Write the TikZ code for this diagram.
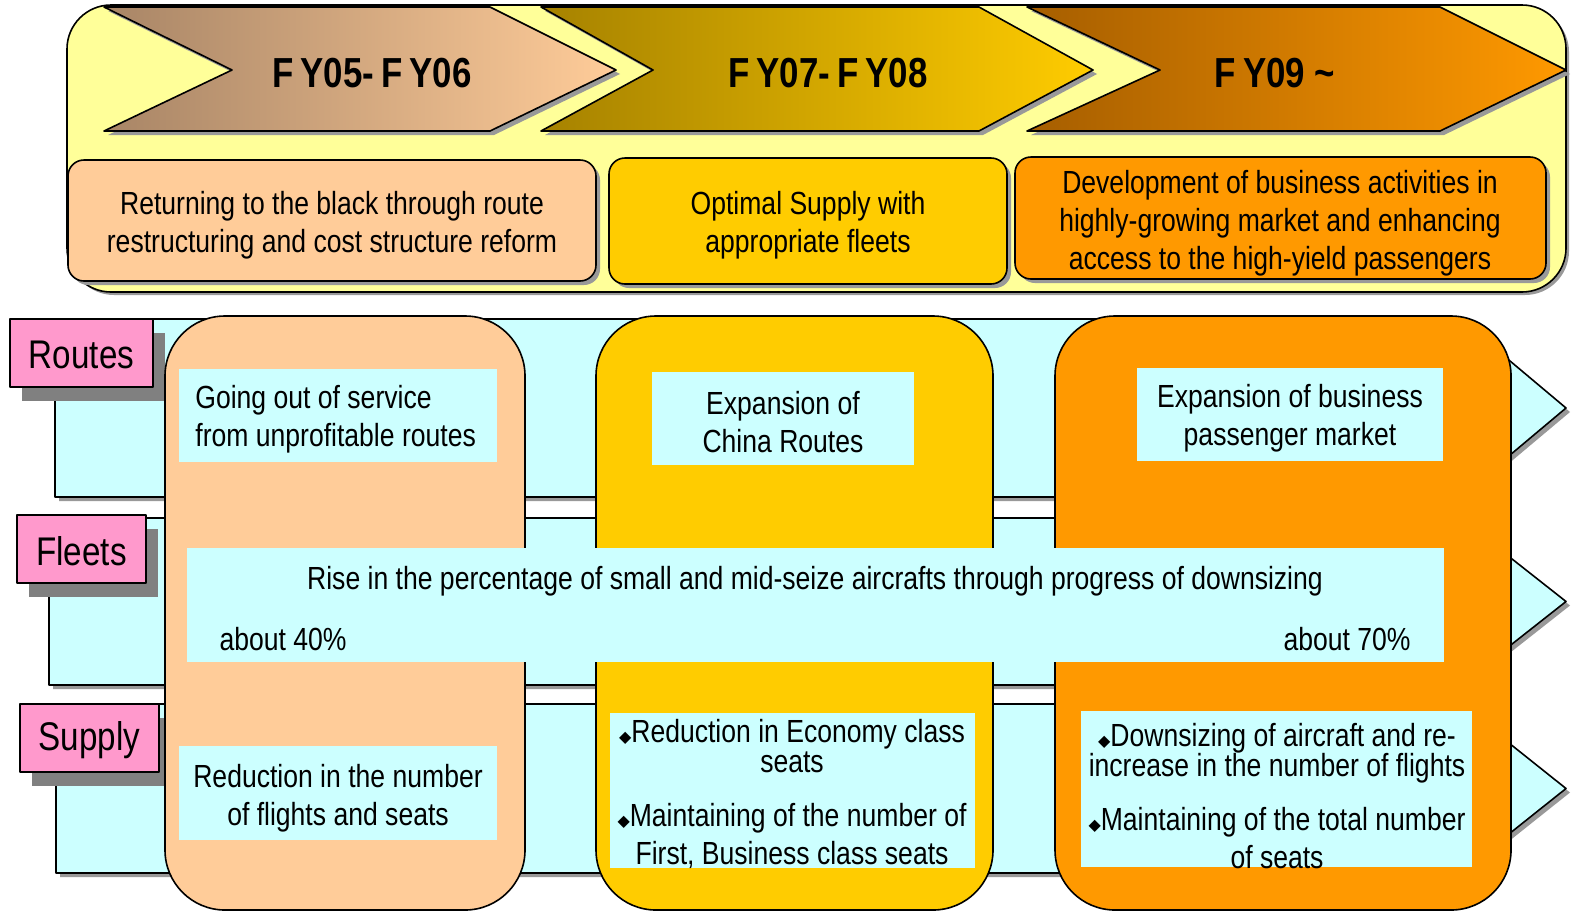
\documentclass[tikz,border=0pt]{standalone}
\usepackage{fontspec}
\setmainfont{Liberation Sans}[FakeStretch=0.83]
\newfontfamily\symfont{DejaVu Sans}
\definecolor{panelyel}{HTML}{FFFF99}
\definecolor{chevA}{HTML}{A88566}
\definecolor{chevB}{HTML}{A68200}
\definecolor{chevC}{HTML}{A65E00}
\definecolor{boxA}{HTML}{FFCC99}
\definecolor{boxB}{HTML}{FFCC00}
\definecolor{boxC}{HTML}{FF9900}
\definecolor{bandcyan}{HTML}{CCFFFF}
\definecolor{tagpink}{HTML}{FF99CC}
\newcommand\bul{{\symfont\fontsize{8}{8}\selectfont ◆}}
\begin{document}
\begin{tikzpicture}[line join=round,x=0.5pt,y=-0.5pt]
	\tikzset{
		shade-gray/.style={fill=black!40},
		tag-text/.style={inner sep=0pt,font=\fontsize{20}{24}\selectfont},
		txt/.style={inner sep=0pt,align=center,font=\fontsize{16}{19}\selectfont},
		fy-text/.style={inner sep=0pt,font=\bfseries\fontsize{21}{24}\selectfont}
	}
	\useasboundingbox (0,0) rectangle (1572,911);
	% top panel
	\fill[shade-gray,rounded corners=22pt] (70,8) rectangle (1569,295);
	\draw[fill=panelyel,rounded corners=22pt,line width=0.8pt] (67,5) rectangle (1566,292);
	% period arrows
	\foreach \xa/\xb/\dl/\dr/\cl/\cr/\lab/\xt [count=\i] in
		{104/490/128/126/chevA/boxA/{F\,Y05-\,F\,Y06}/372,
		 541/979/112/114/chevB/boxB/{F\,Y07-\,F\,Y08}/828,
		 1027/1440/133/126/chevC/boxC/{F\,Y09 \textasciitilde}/1275}
	{
		\fill[shade-gray,shift={(4,4)}] (\xa,7) -- (\xb,7) -- (\xb+\dr,70) -- (\xb,131) -- (\xa,131) -- (\xa+\dl,70) -- cycle;
		\draw[left color=\cl,right color=\cr,line width=0.8pt] (\xa,7) -- (\xb,7) -- (\xb+\dr,70) -- (\xb,131) -- (\xa,131) -- (\xa+\dl,70) -- cycle;
		\node[fy-text] (fy\i) at (\xt,73) {\lab};
	}
	% aims
	\foreach \xa/\ya/\xb/\yb/\cl in {68/160/596/281/boxA, 609/158/1007/284/boxB, 1015/157/1546/279/boxC}
	{
		\fill[shade-gray,rounded corners=8pt] (\xa+4,\ya+4) rectangle (\xb+4,\yb+4);
		\draw[fill=\cl,rounded corners=8pt,line width=0.8pt] (\xa,\ya) rectangle (\xb,\yb);
	}
	\node[txt] (aim1) at (332,225) {Returning to the black through route\\restructuring and cost structure reform};
	\node[txt] (aim2) at (808,225) {Optimal Supply with\\appropriate fleets};
	\node[txt] (aim3) at (1280,223) {Development of business activities in\\highly-growing market and enhancing\\access to the high-yield passengers};
	% bands
	\foreach \xa/\ya/\yb in {55/319/497, 49/518/685, 56/704/873}
	{
		\fill[shade-gray,shift={(4,4)}] (\xa,\ya) -- (1460,\ya) -- (1566,{(\ya+\yb)/2}) -- (1460,\yb) -- (\xa,\yb) -- cycle;
		\draw[fill=bandcyan,line width=0.8pt] (\xa,\ya) -- (1460,\ya) -- (1566,{(\ya+\yb)/2}) -- (1460,\yb) -- (\xa,\yb) -- cycle;
	}
	\foreach \xa/\ya/\xb/\yb/\lab [count=\i] in {10/319/153/387/Routes, 17/515/146/583/Fleets, 20/704/159/772/Supply}
	{
		\fill[black!50] (\xa+12,\ya+14) rectangle (\xb+12,\yb+14);
		\draw[fill=tagpink,line width=0.8pt] (\xa,\ya) rectangle (\xb,\yb);
		\node[tag-text] (tag\i) at ({(\xa+\xb)/2},{(\ya+\yb)/2+2}) {\lab};
	}
	% columns
	\foreach \xa/\xb/\cl in {165/525/boxA, 596/993/boxB, 1055/1511/boxC}
		\draw[fill=\cl,rounded corners=30pt,line width=0.8pt] (\xa,316) rectangle (\xb,910);
	% cyan boxes
	\fill[bandcyan] (179,369) rectangle (497,462);
	\fill[bandcyan] (652,372) rectangle (914,465);
	\fill[bandcyan] (1137,368) rectangle (1443,461);
	\fill[bandcyan] (187,548) rectangle (1444,662);
	\fill[bandcyan] (179,746) rectangle (497,840);
	\fill[bandcyan] (610,713) rectangle (975,868);
	\fill[bandcyan] (1081,711) rectangle (1472,867);
	\node[txt,align=left,anchor=west] (rt1) at (195,419) {Going out of service\\from unprofitable routes};
	\node[txt] (rt2) at (783,422) {Expansion of\\China Routes};
	\node[txt] (rt3) at (1290,418) {Expansion of business\\passenger market};
	\node[txt] (fl) at (815,581) {Rise in the percentage of small and mid-seize aircrafts through progress of downsizing};
	\node[txt] (fl40) at (283,639) {about 40\%};
	\node[txt] (fl70) at (1347,639) {about 70\%};
	\node[txt] (sp1) at (338,798) {Reduction in the number\\of flights and seats};
	\node[txt] (sp2) at (792,794) {\bul Reduction in Economy class\\[-4pt]seats\\[8pt]\bul Maintaining of the number of\\First, Business class seats};
	\node[txt] (sp3) at (1277,796) {\bul Downsizing of aircraft and re-\\[-4pt]increase in the number of flights\\[8pt]\bul Maintaining of the total number\\of seats};
\end{tikzpicture}
\end{document}
